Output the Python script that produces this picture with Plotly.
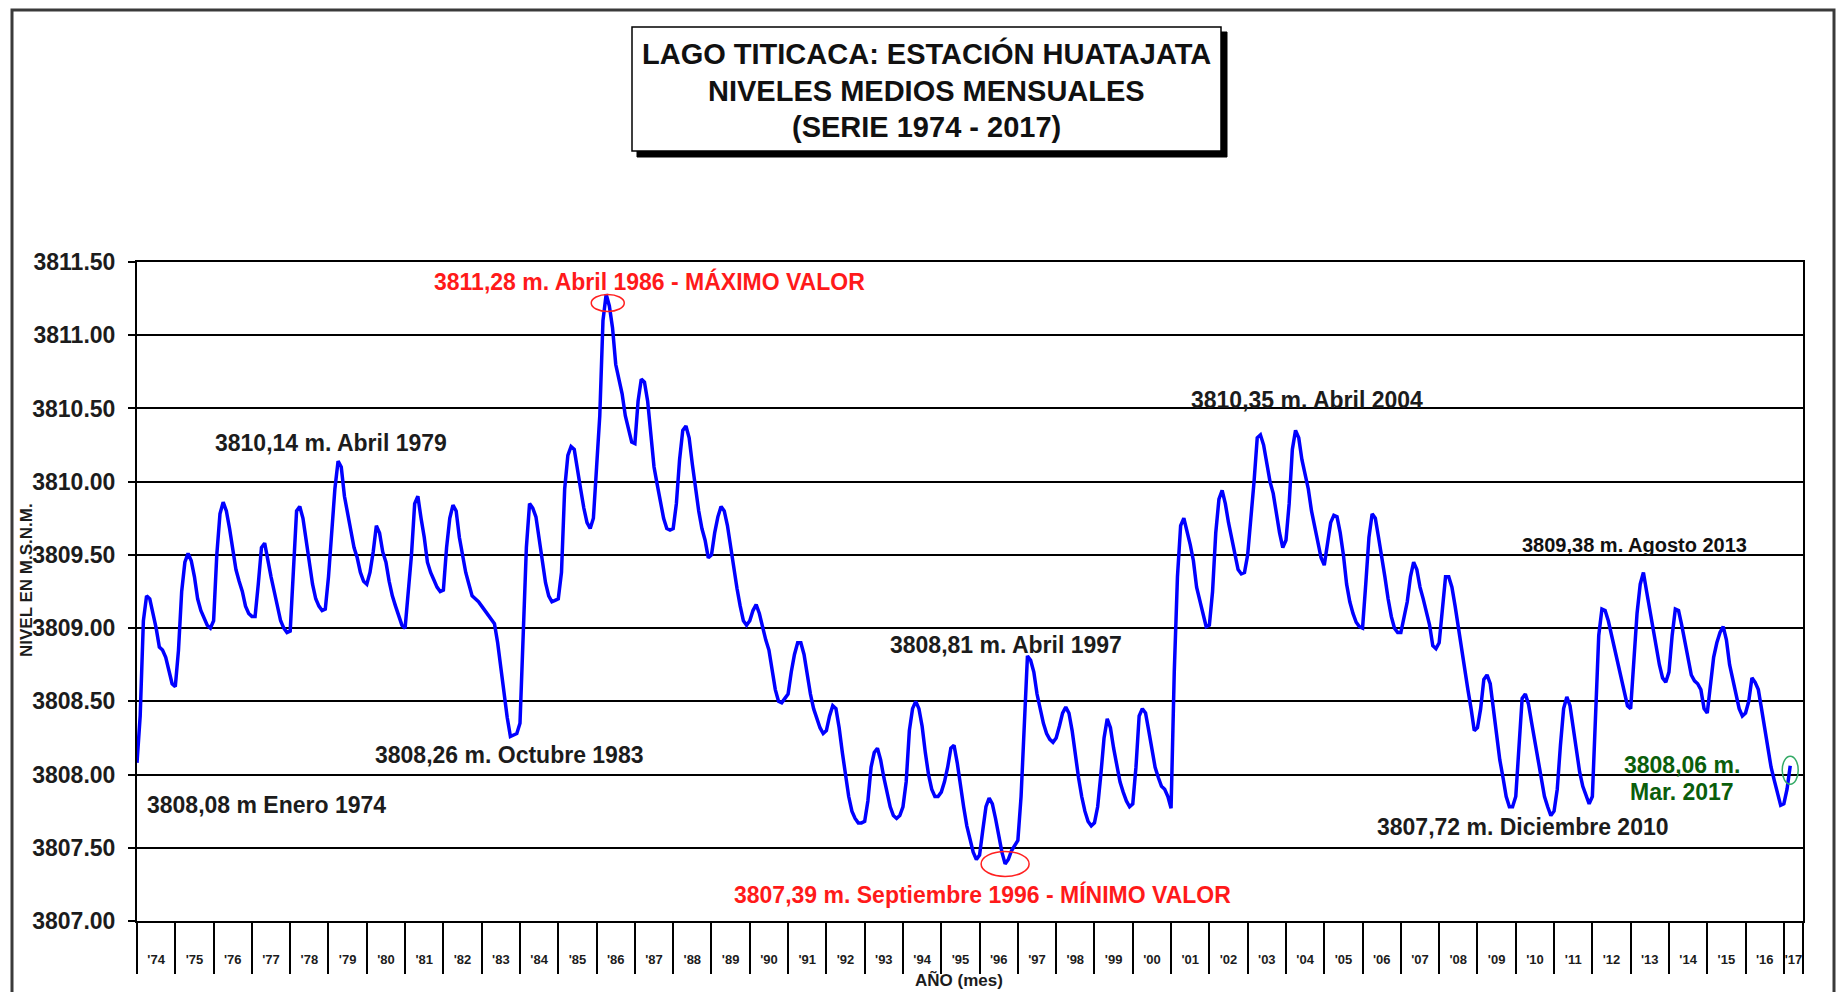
import plotly.graph_objects as go

# ---------------- DATA (monthly mean levels, m a.s.l.) ----------------
nivel_1974_1979 = [
    3808.08, 3808.40, 3809.05, 3809.22, 3809.20, 3809.10, 3809.00, 3808.87, 3808.85, 3808.80, 3808.70, 3808.62,
    3808.60, 3808.85, 3809.25, 3809.45, 3809.51, 3809.46, 3809.35, 3809.20, 3809.12, 3809.07, 3809.02, 3809.00,
    3809.05, 3809.50, 3809.78, 3809.86, 3809.80, 3809.68, 3809.55, 3809.40, 3809.32, 3809.25, 3809.15, 3809.10,
    3809.08, 3809.08, 3809.30, 3809.55, 3809.58, 3809.45, 3809.35, 3809.25, 3809.15, 3809.05, 3809.00, 3808.97,
    3808.98, 3809.45, 3809.80, 3809.83, 3809.75, 3809.60, 3809.45, 3809.30, 3809.20, 3809.15, 3809.12, 3809.13,
    3809.35, 3809.62, 3809.95, 3810.14, 3810.10, 3809.90, 3809.78, 3809.65, 3809.55, 3809.48, 3809.38, 3809.32,
]
nivel_1980_1989 = [
    3809.30, 3809.38, 3809.52, 3809.70, 3809.65, 3809.52, 3809.45, 3809.32, 3809.22, 3809.15, 3809.08, 3809.02,
    3809.00, 3809.22, 3809.50, 3809.85, 3809.90, 3809.75, 3809.62, 3809.45, 3809.38, 3809.33, 3809.28, 3809.25,
    3809.26, 3809.55, 3809.75, 3809.84, 3809.80, 3809.62, 3809.50, 3809.38, 3809.30, 3809.22, 3809.20, 3809.18,
    3809.15, 3809.12, 3809.10, 3809.07, 3809.03, 3808.90, 3808.72, 3808.57, 3808.39, 3808.26, 3808.27, 3808.28,
    3808.35, 3808.95, 3809.55, 3809.85, 3809.82, 3809.76, 3809.62, 3809.46, 3809.31, 3809.22, 3809.18, 3809.19,
    3809.20, 3809.38, 3809.95, 3810.18, 3810.24, 3810.22, 3810.10, 3809.95, 3809.82, 3809.72, 3809.68, 3809.75,
    3810.10, 3810.45, 3811.10, 3811.28, 3811.20, 3811.05, 3810.80, 3810.70, 3810.60, 3810.45, 3810.35, 3810.27,
    3810.26, 3810.55, 3810.70, 3810.68, 3810.55, 3810.30, 3810.10, 3809.98, 3809.85, 3809.75, 3809.68, 3809.67,
    3809.68, 3809.85, 3810.15, 3810.35, 3810.38, 3810.30, 3810.12, 3809.95, 3809.80, 3809.68, 3809.60, 3809.48,
    3809.50, 3809.65, 3809.76, 3809.83, 3809.80, 3809.70, 3809.55, 3809.40, 3809.27, 3809.15, 3809.05, 3809.02,
]
nivel_1990_1999 = [
    3809.05, 3809.12, 3809.16, 3809.10, 3809.00, 3808.92, 3808.85, 3808.70, 3808.58, 3808.50, 3808.49, 3808.52,
    3808.55, 3808.70, 3808.82, 3808.90, 3808.90, 3808.82, 3808.68, 3808.55, 3808.45, 3808.38, 3808.32, 3808.28,
    3808.30, 3808.40, 3808.47, 3808.45, 3808.32, 3808.15, 3807.98, 3807.85, 3807.75, 3807.70, 3807.67, 3807.67,
    3807.68, 3807.82, 3808.05, 3808.15, 3808.18, 3808.10, 3807.98, 3807.88, 3807.78, 3807.72, 3807.70, 3807.72,
    3807.78, 3807.95, 3808.30, 3808.45, 3808.50, 3808.45, 3808.33, 3808.15, 3808.00, 3807.90, 3807.85, 3807.85,
    3807.88, 3807.95, 3808.05, 3808.18, 3808.20, 3808.08, 3807.92, 3807.78, 3807.65, 3807.55, 3807.47, 3807.42,
    3807.45, 3807.62, 3807.78, 3807.84, 3807.80, 3807.70, 3807.58, 3807.47, 3807.39, 3807.42, 3807.48, 3807.52,
    3807.55, 3807.85, 3808.40, 3808.81, 3808.78, 3808.70, 3808.55, 3808.45, 3808.35, 3808.28, 3808.24, 3808.22,
    3808.25, 3808.33, 3808.42, 3808.46, 3808.42, 3808.30, 3808.12, 3807.98, 3807.85, 3807.75, 3807.68, 3807.65,
    3807.67, 3807.78, 3808.00, 3808.25, 3808.38, 3808.32, 3808.18, 3808.05, 3807.95, 3807.88, 3807.82, 3807.78,
]
nivel_2000_2009 = [
    3807.80, 3808.05, 3808.40, 3808.45, 3808.42, 3808.30, 3808.18, 3808.05, 3807.98, 3807.92, 3807.90, 3807.85,
    3807.77, 3808.70, 3809.35, 3809.70, 3809.75, 3809.67, 3809.57, 3809.46, 3809.28, 3809.19, 3809.10, 3809.01,
    3809.02, 3809.25, 3809.65, 3809.88, 3809.94, 3809.85, 3809.72, 3809.62, 3809.50, 3809.40, 3809.37, 3809.38,
    3809.50, 3809.72, 3810.00, 3810.30, 3810.32, 3810.25, 3810.12, 3810.00, 3809.92, 3809.78, 3809.65, 3809.55,
    3809.60, 3809.85, 3810.22, 3810.35, 3810.30, 3810.15, 3810.05, 3809.95, 3809.80, 3809.70, 3809.58, 3809.48,
    3809.43, 3809.58, 3809.72, 3809.77, 3809.76, 3809.65, 3809.50, 3809.30, 3809.18, 3809.10, 3809.04, 3809.01,
    3809.00, 3809.30, 3809.62, 3809.78, 3809.75, 3809.62, 3809.50, 3809.35, 3809.20, 3809.08, 3809.00, 3808.97,
    3808.97, 3809.08, 3809.18, 3809.35, 3809.45, 3809.40, 3809.28, 3809.20, 3809.10, 3809.02, 3808.88, 3808.86,
    3808.90, 3809.15, 3809.35, 3809.35, 3809.28, 3809.15, 3809.00, 3808.85, 3808.70, 3808.58, 3808.45, 3808.30,
    3808.32, 3808.45, 3808.65, 3808.68, 3808.62, 3808.45, 3808.25, 3808.10, 3807.98, 3807.85, 3807.78, 3807.78,
]
nivel_2010_2017 = [
    3807.85, 3808.20, 3808.52, 3808.55, 3808.48, 3808.35, 3808.22, 3808.08, 3807.95, 3807.85, 3807.78, 3807.72,
    3807.75, 3807.90, 3808.20, 3808.45, 3808.53, 3808.47, 3808.32, 3808.18, 3808.02, 3807.92, 3807.85, 3807.80,
    3807.85, 3808.40, 3808.95, 3809.13, 3809.12, 3809.05, 3808.95, 3808.85, 3808.75, 3808.65, 3808.55, 3808.47,
    3808.45, 3808.75, 3809.10, 3809.30, 3809.38, 3809.25, 3809.12, 3809.00, 3808.88, 3808.75, 3808.66, 3808.63,
    3808.70, 3808.95, 3809.13, 3809.12, 3809.02, 3808.90, 3808.78, 3808.68, 3808.64, 3808.62, 3808.58, 3808.45,
    3808.42, 3808.62, 3808.80, 3808.90, 3808.97, 3809.01, 3808.92, 3808.75, 3808.65, 3808.53, 3808.45, 3808.40,
    3808.42, 3808.50, 3808.66, 3808.63, 3808.58, 3808.45, 3808.32, 3808.18, 3808.05, 3807.96, 3807.87, 3807.79,
    3807.80, 3807.90, 3808.06,
]

year_labels = ["'74", "'75", "'76", "'77", "'78", "'79", "'80", "'81", "'82", "'83", "'84",
               "'85", "'86", "'87", "'88", "'89", "'90", "'91", "'92", "'93", "'94", "'95",
               "'96", "'97", "'98", "'99", "'00", "'01", "'02", "'03", "'04", "'05", "'06",
               "'07", "'08", "'09", "'10", "'11", "'12", "'13", "'14", "'15", "'16", "'17"]

y_ticks = [3807.0, 3807.5, 3808.0, 3808.5, 3809.0, 3809.5, 3810.0, 3810.5, 3811.0, 3811.5]

niveles = nivel_1974_1979 + nivel_1980_1989 + nivel_1990_1999 + nivel_2000_2009 + nivel_2010_2017
meses = list(range(len(niveles)))  # month index, 0 = Enero 1974

# ---------------- LAYOUT GEOMETRY ----------------
OFF = 8  # page body margin of the browser
W, H = 1845 - 2 * OFF, 1000 - 2 * OFF
L, T = 137 - OFF, 262 - OFF
R = W - (1803 - OFF)
B = H - (921 - OFF)
PW, PH = W - L - R, H - T - B
X_MAX = 522
Y_MIN, Y_MAX = 3807.0, 3811.5
PX_PER_MONTH = PW / X_MAX
PX_PER_M = PH / (Y_MAX - Y_MIN)


def px(x):  # page pixel -> paper
    return (x - OFF - L) / PW


def py(y):
    return (H - B - (y - OFF)) / PH


FONT = "Arial, Liberation Sans, sans-serif"
DARK = "#1c1c1c"

fig = go.Figure()
fig.add_trace(go.Scatter(x=meses, y=niveles, mode="lines",
                         line=dict(color="#0000ff", width=3.5), hoverinfo="x+y",
                         showlegend=False))

n_years = len(year_labels)
label_pos = [12 * i + 6 for i in range(n_years - 1)] + [12 * (n_years - 1) + 3]
boundary_pos = [12 * i for i in range(n_years)] + [X_MAX]

fig.update_xaxes(range=[0, X_MAX], tickmode="array", tickvals=label_pos, ticktext=year_labels,
                 ticks="outside", ticklen=25, tickcolor="rgba(0,0,0,0)",
                 tickfont=dict(family=FONT, size=13, color=DARK, weight="bold"),
                 showgrid=False, zeroline=False,
                 showline=True, linecolor="black", linewidth=2, mirror=True,
                 minor=dict(tickmode="array", tickvals=boundary_pos, ticks="outside",
                            ticklen=51, tickwidth=2, tickcolor="black", showgrid=False))

fig.update_yaxes(range=[Y_MIN, Y_MAX], tickmode="array", tickvals=y_ticks,
                 ticktext=[f"{v:.2f}" for v in y_ticks],
                 ticks="outside", ticklen=7, tickwidth=2, tickcolor="black",
                 ticklabelstandoff=8,
                 tickfont=dict(family=FONT, size=23, color=DARK, weight="bold"),
                 showgrid=True, gridcolor="black", gridwidth=2, zeroline=False,
                 showline=True, linecolor="black", linewidth=2, mirror=True)

shapes = []
# outer frame (kept inside the drawable page)
shapes.append(dict(type="rect", xref="paper", yref="paper", x0=px(12), x1=px(1834), y0=py(1030), y1=py(10),
                   line=dict(color="#3a3a3a", width=3), fillcolor="rgba(0,0,0,0)", layer="below"))
# title box with shadow
shapes.append(dict(type="rect", xref="paper", yref="paper", x0=px(637), x1=px(1227), y0=py(157), y1=py(32),
                   line=dict(color="black", width=1), fillcolor="black"))
shapes.append(dict(type="rect", xref="paper", yref="paper", x0=px(632), x1=px(1221), y0=py(151), y1=py(27),
                   line=dict(color="black", width=1.5), fillcolor="white"))

# ellipses around max, min and last value
i_max = niveles.index(max(niveles))
i_min = niveles.index(min(niveles))
i_last = len(niveles) - 1


def ellipse(cx, cy, w_px, h_px, color):
    return dict(type="circle", xref="x", yref="y",
                x0=cx - w_px / 2 / PX_PER_MONTH, x1=cx + w_px / 2 / PX_PER_MONTH,
                y0=cy - h_px / 2 / PX_PER_M, y1=cy + h_px / 2 / PX_PER_M,
                line=dict(color=color, width=1.5), fillcolor="rgba(0,0,0,0)")


shapes.append(ellipse(i_max + 0.5, niveles[i_max] - 0.06, 33, 17, "#ff2020"))
shapes.append(ellipse(i_min, niveles[i_min], 48, 25, "#ff2020"))
shapes.append(ellipse(i_last, niveles[i_last] - 0.03, 16, 28, "#33aa66"))

annotations = []


def txt(text, x, y, color=DARK, size=23, angle=0):
    annotations.append(dict(text=text, xref="paper", yref="paper", x=px(x), y=py(y),
                            xanchor="center", yanchor="middle", showarrow=False, textangle=angle,
                            font=dict(family=FONT, size=size, color=color, weight="bold")))


# title
txt("LAGO TITICACA: ESTACIÓN HUATAJATA", 926, 54, "#111111", 29)
txt("NIVELES MEDIOS MENSUALES", 926, 91, "#111111", 29)
txt("(SERIE 1974 - 2017)", 926, 127, "#111111", 29)

# point labels
txt("3811,28 m. Abril 1986 - MÁXIMO VALOR", 649, 281, "#ff1a1a")
txt("3810,14 m. Abril 1979", 331, 443)
txt("3808,26 m. Octubre 1983", 509, 755)
txt("3808,08 m Enero 1974", 266, 805)
txt("3808,81 m. Abril 1997", 1006, 645)
txt("3807,39 m. Septiembre 1996 - MÍNIMO VALOR", 983, 894, "#ff1a1a")
txt("3810,35 m. Abril 2004", 1307, 400)
txt("3809,38 m. Agosto 2013", 1634, 545, "#111111", 20)
txt("3807,72 m. Diciembre 2010", 1523, 827)
txt("3808,06 m.", 1682, 765, "#0b5e0b", 23)
txt("Mar. 2017", 1682, 792, "#0b5e0b", 23)

# axis titles
txt("NIVEL EN M.S.N.M.", 26, 580, DARK, 17, -90)
txt("AÑO (mes)", 959, 980, DARK, 17)

fig.update_layout(width=W, height=H, margin=dict(l=L, r=R, t=T, b=B),
                  paper_bgcolor="white", plot_bgcolor="white",
                  shapes=shapes, annotations=annotations, showlegend=False)

fig.write_html("out.html")
